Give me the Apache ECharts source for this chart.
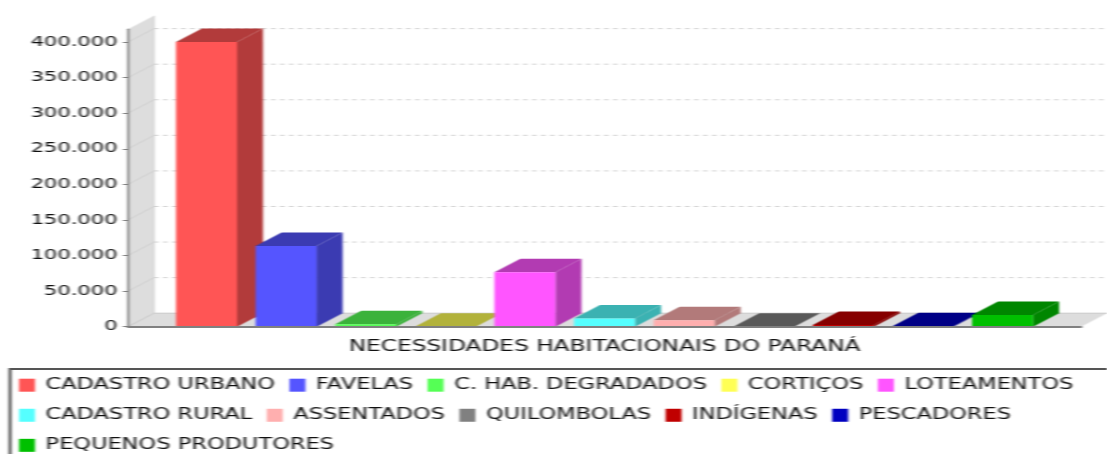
<!DOCTYPE html>
<html>
<head>
<meta charset="utf-8">
<style>
html,body{margin:0;padding:0;background:#fff;overflow:hidden;width:1107px;height:454px}
#c{position:absolute;left:0;top:0;width:738px;height:454px;transform:scaleX(1.5);transform-origin:0 0;filter:blur(0.6px)}
</style>
<script src="https://cdn.jsdelivr.net/npm/echarts@6/dist/echarts.min.js"></script>
</head>
<body>
<div id="c"></div>
<script>
const category = ['NECESSIDADES HABITACIONAIS DO PARANÁ'];
const seriesNames = ['CADASTRO URBANO','FAVELAS','C. HAB. DEGRADADOS','CORTIÇOS','LOTEAMENTOS','CADASTRO RURAL','ASSENTADOS','QUILOMBOLAS','INDÍGENAS','PESCADORES','PEQUENOS PRODUTORES'];
const seriesValues = [400000,113500,3500,0,76500,11500,9000,0,2500,500,16500];
const seriesColors = ['#FF5555','#5555FF','#55FF55','#FFFF55','#FF55FF','#55FFFF','#FFAFAF','#808080','#C00000','#0000C0','#00C000'];
const yTicks = [0,50000,100000,150000,200000,250000,300000,350000,400000];

const SX = 1.5;
const px = v => v / SX;
const DX = px(26), DY = 13.5;
const barStart = 48 / 953, barStep = 79.6 / 953, barWidth = 61 / 953;

function darker(hex){
  const n = parseInt(hex.slice(1),16);
  const f = c => Math.floor(c*0.7);
  return 'rgb('+f(n>>16&255)+','+f(n>>8&255)+','+f(n&255)+')';
}
const fmt = v => String(v).replace(/\B(?=(\d{3})+$)/g,'.');

const wallSeries = {
  type:'custom', name:'wall', silent:true, z:1, data:yTicks.map(v=>[0,v]),
  encode:{x:0,y:1},
  renderItem(params, api){
    const s = params.coordSys;
    const y = api.coord([0, api.value(1)])[1];
    const kids = [];
    const L = s.x, R = s.x + s.width, T = s.y, B = s.y + s.height;
    if(params.dataIndex === 0){
      kids.push({type:'polygon',shape:{points:[[L,B],[L+DX,B-DY],[L+DX,T-DY],[L,T]]},style:{fill:'#DDDDDD'}});
      kids.push({type:'polygon',shape:{points:[[L,B],[R,B],[R+DX,B-DY],[L+DX,B-DY]]},style:{fill:'#DDDDDD'}});
      kids.push({type:'line',shape:{x1:L+DX,y1:B-DY,x2:L+DX,y2:T-DY},style:{stroke:'#C8C8C8',lineWidth:0.7}});
      kids.push({type:'line',shape:{x1:L,y1:B,x2:L+DX,y2:B-DY},style:{stroke:'#C8C8C8',lineWidth:1}});
      kids.push({type:'line',shape:{x1:L+DX,y1:B-DY,x2:R+DX,y2:B-DY},style:{stroke:'#C8C8C8',lineWidth:1}});
    }
    if(api.value(1) > 0){
      kids.push({type:'line',shape:{x1:L,y1:y,x2:L+DX,y2:y-DY},style:{stroke:'#D0D0D0',lineWidth:1}});
      kids.push({type:'line',shape:{x1:L+DX,y1:y-DY,x2:R+DX,y2:y-DY},style:{stroke:'#D2D2D2',lineWidth:1,lineDash:[3,3]}});
    }
    return {type:'group',children:kids};
  }
};

const barSeries = seriesNames.map((name,i)=>({
  type:'custom', name, z:2+i, data:[[0,seriesValues[i]]], encode:{x:0,y:1},
  itemStyle:{color:seriesColors[i]},
  renderItem(params, api){
    const s = params.coordSys;
    const band = api.size([1,0])[0];
    const x0 = s.x + band*(barStart + barStep*i);
    const w = band*barWidth;
    const y1 = api.coord([0,api.value(1)])[1];
    const y0 = api.coord([0,0])[1];
    const dark = darker(seriesColors[i]);
    return {type:'group',children:[
      {type:'polygon',shape:{points:[[x0,y1],[x0+w,y1],[x0+w+DX,y1-DY],[x0+DX,y1-DY]]},style:{fill:dark}},
      {type:'polygon',shape:{points:[[x0+w,y1],[x0+w,y0],[x0+w+DX,y0-DY],[x0+w+DX,y1-DY]]},style:{fill:dark}},
      {type:'rect',shape:{x:x0,y:y1,width:w,height:y0-y1},style:{fill:seriesColors[i]}}
    ]};
  }
}));

const chart = echarts.init(document.getElementById('c'),null,{renderer:'canvas'});
chart.setOption({
  animation:false,
  backgroundColor:'#fff',
  grid:{left:px(128),right:px(26),top:29.3,height:297.4},
  xAxis:{
    type:'category',data:category,z:20,
    axisLine:{lineStyle:{color:'#808080',width:2}},
    axisTick:{alignWithLabel:true,length:4,lineStyle:{color:'#808080'}},
    axisLabel:{color:'#111',fontFamily:'DejaVu Sans',fontSize:15.5,margin:12,interval:0}
  },
  yAxis:{
    type:'value',min:0,max:418000,z:20,
    axisLine:{show:true,lineStyle:{color:'#808080',width:1.4}},
    axisTick:{show:true,length:3.5,customValues:yTicks,lineStyle:{color:'#808080'}},
    axisLabel:{color:'#111',fontFamily:'DejaVu Sans',fontSize:14,margin:7,customValues:yTicks,formatter:v=>fmt(v)},
    splitLine:{show:false}
  },
  graphic:[{type:'rect',silent:true,z:-1,shape:{x:px(10),y:369,width:px(1300),height:140},style:{fill:'none',stroke:'#555',lineWidth:2}}],
  legend:{
    left:px(19),top:375,padding:0,width:px(1085),
    itemWidth:px(16),itemHeight:13,itemGap:px(14.5),
    selectedMode:false,
    textStyle:{color:'#111',fontFamily:'DejaVu Sans',fontSize:15,lineHeight:20.4,padding:[0,0,0,2]},
    data:seriesNames.map((name,i)=>({name,icon:'rect',itemStyle:{color:seriesColors[i],borderWidth:0}}))
  },
  series:[wallSeries,...barSeries]
});
</script>
</body>
</html>
